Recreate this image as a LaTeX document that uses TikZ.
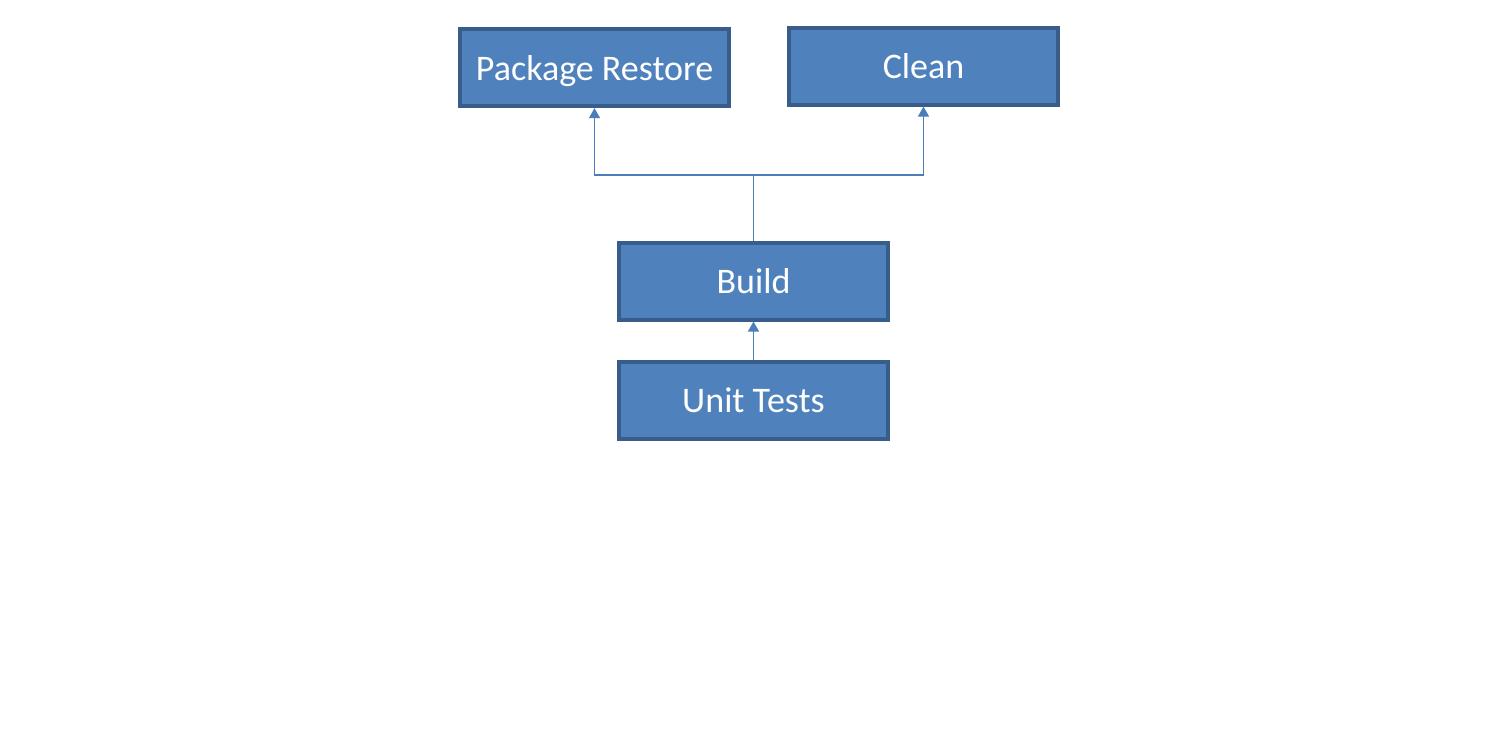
\documentclass[tikz,border=0pt]{standalone}
\usepackage{fontspec}
\setmainfont{Carlito}
\usetikzlibrary{arrows.meta}
\definecolor{boxfill}{HTML}{4F81BD}
\definecolor{boxline}{HTML}{385D8A}
\definecolor{conncol}{HTML}{4A7EBB}
\tikzset{
  task/.style={draw=boxline, fill=boxfill, line width=3pt, text=white,
    minimum width=201.75pt, minimum height=57.75pt, inner sep=0pt,
    text height=18.75pt, text depth=0pt,
    font=\fontsize{27}{32}\selectfont},
  conn/.style={draw=conncol, line width=1.4pt, -{Triangle[width=8pt,length=7.5pt]}},
  plain/.style={draw=conncol, line width=1.4pt}
}
\begin{document}
\begin{tikzpicture}[x=0.75pt,y=-0.75pt]
\useasboundingbox[fill=white] (0,0) rectangle (1508,733);
\node[task] (pr) at (594.5,67.5) {Package Restore};
\node[task] (cl) at (923.5,66) {Clean};
\node[task] (bu) at (753.5,281) {Build};
\node[task] (ut) at (753.5,400) {Unit Tests};
\coordinate (j) at (753.5,175);
\draw[plain] (bu.north) -- (j);
\draw[conn] (j) -| (pr.south);
\draw[conn] (j) -| (cl.south);
\draw[conn] (ut.north) -- (bu.south);
\end{tikzpicture}
\end{document}
